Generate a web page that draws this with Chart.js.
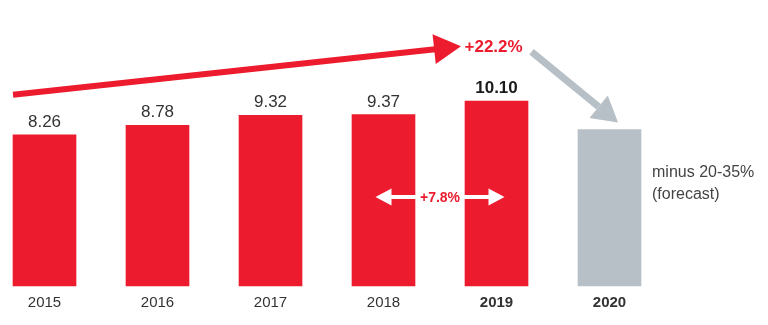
<!DOCTYPE html>
<html>
<head>
<meta charset="utf-8">
<script src="https://cdn.jsdelivr.net/npm/chart.js@4.4.1/dist/chart.umd.min.js"></script>
<style>
  html, body { margin: 0; padding: 0; background: #ffffff; }
  #wrap { width: 768px; height: 325px; position: relative; }
</style>
</head>
<body>
<div id="wrap"><canvas id="chart"></canvas></div>
<script>
// Years shown on the axis (the trailing blank slot leaves room for the forecast note)
const years = ['2015', '2016', '2017', '2018', '2019', '2020', ''];
// Yearly values; 2020 is the forecast bar
const values = [8.26, 8.78, 9.32, 9.37, 10.10, 8.55, null];
// Printed value labels (none on the forecast bar)
const valueLabels = ['8.26', '8.78', '9.32', '9.37', '10.10', '', ''];
// Callout texts
const growthTotal = '+22.2%';
const growthLast = '+7.8%';
const forecastNote = ['minus 20-35%', '(forecast)'];

const RED = '#ec1c2e';
const GREY = '#b6c0c6';
const TEXT = '#333333';
const FONT = '"Liberation Sans", Arial, sans-serif';

function arrowHead(ctx, tipX, tipY, fromX, fromY, len, width, color) {
  const a = Math.atan2(tipY - fromY, tipX - fromX);
  const bx = tipX - Math.cos(a) * len;
  const by = tipY - Math.sin(a) * len;
  const nx = -Math.sin(a) * width / 2;
  const ny = Math.cos(a) * width / 2;
  ctx.fillStyle = color;
  ctx.beginPath();
  ctx.moveTo(tipX, tipY);
  ctx.lineTo(bx + nx, by + ny);
  ctx.lineTo(bx - nx, by - ny);
  ctx.closePath();
  ctx.fill();
  return [bx, by];
}

const annotations = {
  id: 'annotations',
  afterDatasetsDraw(chart) {
    const ctx = chart.ctx;
    const y = chart.scales.y;
    const bars = chart.getDatasetMeta(0).data;
    ctx.save();

    // value labels above the bars
    bars.forEach((bar, i) => {
      if (!valueLabels[i]) return;
      ctx.font = (i === 4 ? 'bold ' : '') + '17px ' + FONT;
      ctx.fillStyle = i === 4 ? '#1a1a1a' : TEXT;
      ctx.textAlign = 'center';
      ctx.textBaseline = 'alphabetic';
      ctx.fillText(valueLabels[i], bar.x, bar.y - 8);
    });

    // long red growth arrow, 2015 -> 2019
    const b0 = bars[0], b4 = bars[4], b3 = bars[3], b5 = bars[5];
    const sx = b0.x - b0.width / 2, sy = y.getPixelForValue(10.45);
    const tx = b4.x - 35.5, ty = y.getPixelForValue(13.1);
    const [rbx, rby] = arrowHead(ctx, tx, ty, sx, sy, 27, 30, RED);
    ctx.strokeStyle = RED;
    ctx.lineWidth = 6;
    ctx.beginPath();
    ctx.moveTo(sx, sy);
    ctx.lineTo(rbx + 1, rby);
    ctx.stroke();

    ctx.font = 'bold 17px ' + FONT;
    ctx.fillStyle = RED;
    ctx.textAlign = 'left';
    ctx.textBaseline = 'middle';
    ctx.fillText(growthTotal, b4.x - 32, ty + 1);

    // grey arrow down to the forecast bar
    const gsx = b4.x + 35, gsy = y.getPixelForValue(12.8);
    const gtx = b5.x + 8.5, gty = b5.y - 7;
    const [gbx, gby] = arrowHead(ctx, gtx, gty, gsx, gsy, 25, 29, GREY);
    ctx.strokeStyle = GREY;
    ctx.lineWidth = 7;
    ctx.beginPath();
    ctx.moveTo(gsx, gsy);
    ctx.lineTo(gbx, gby);
    ctx.stroke();

    // white double arrow across 2018 / 2019
    const mid = (b3.x + b3.width / 2 + b4.x - b4.width / 2) / 2;
    const ay = y.getPixelForValue(4.87);
    const half = 64.5;
    ctx.strokeStyle = '#ffffff';
    ctx.lineWidth = 4;
    ctx.beginPath();
    ctx.moveTo(mid - half + 14, ay);
    ctx.lineTo(mid + half - 14, ay);
    ctx.stroke();
    arrowHead(ctx, mid - half, ay, mid, ay, 16, 17, '#ffffff');
    arrowHead(ctx, mid + half, ay, mid, ay, 16, 17, '#ffffff');
    ctx.font = 'bold 14px ' + FONT;
    ctx.fillStyle = RED;
    ctx.textAlign = 'center';
    ctx.textBaseline = 'middle';
    ctx.fillText(growthLast, mid, ay + 1);

    // forecast note
    ctx.font = '16px ' + FONT;
    ctx.fillStyle = '#444444';
    ctx.textAlign = 'left';
    ctx.textBaseline = 'middle';
    const nx = b5.x + b5.width / 2 + 11;
    ctx.fillText(forecastNote[0], nx, y.getPixelForValue(6.2));
    ctx.fillText(forecastNote[1], nx, y.getPixelForValue(5.0));

    ctx.restore();
  }
};

new Chart(document.getElementById('chart'), {
  type: 'bar',
  data: {
    labels: years,
    datasets: [{
      data: values,
      backgroundColor: values.map((v, i) => i === 5 ? GREY : RED),
      borderWidth: 0,
      barThickness: 63,
      clip: false
    }]
  },
  options: {
    responsive: true,
    maintainAspectRatio: false,
    animation: false,
    events: [],
    layout: { padding: { left: 44.5, right: 45.5, top: 11.5, bottom: 5 } },
    plugins: { legend: { display: false }, tooltip: { enabled: false } },
    scales: {
      x: {
        offset: false,
        grid: { display: false, drawTicks: false },
        border: { display: false },
        ticks: {
          padding: 8,
          color: TEXT,
          maxRotation: 0,
          autoSkip: false,
          font: (c) => ({ family: FONT, size: 15, weight: c.index >= 4 ? 'bold' : 'normal' })
        }
      },
      y: {
        display: false,
        min: 0,
        max: 15
      }
    }
  },
  plugins: [annotations]
});
</script>
</body>
</html>
